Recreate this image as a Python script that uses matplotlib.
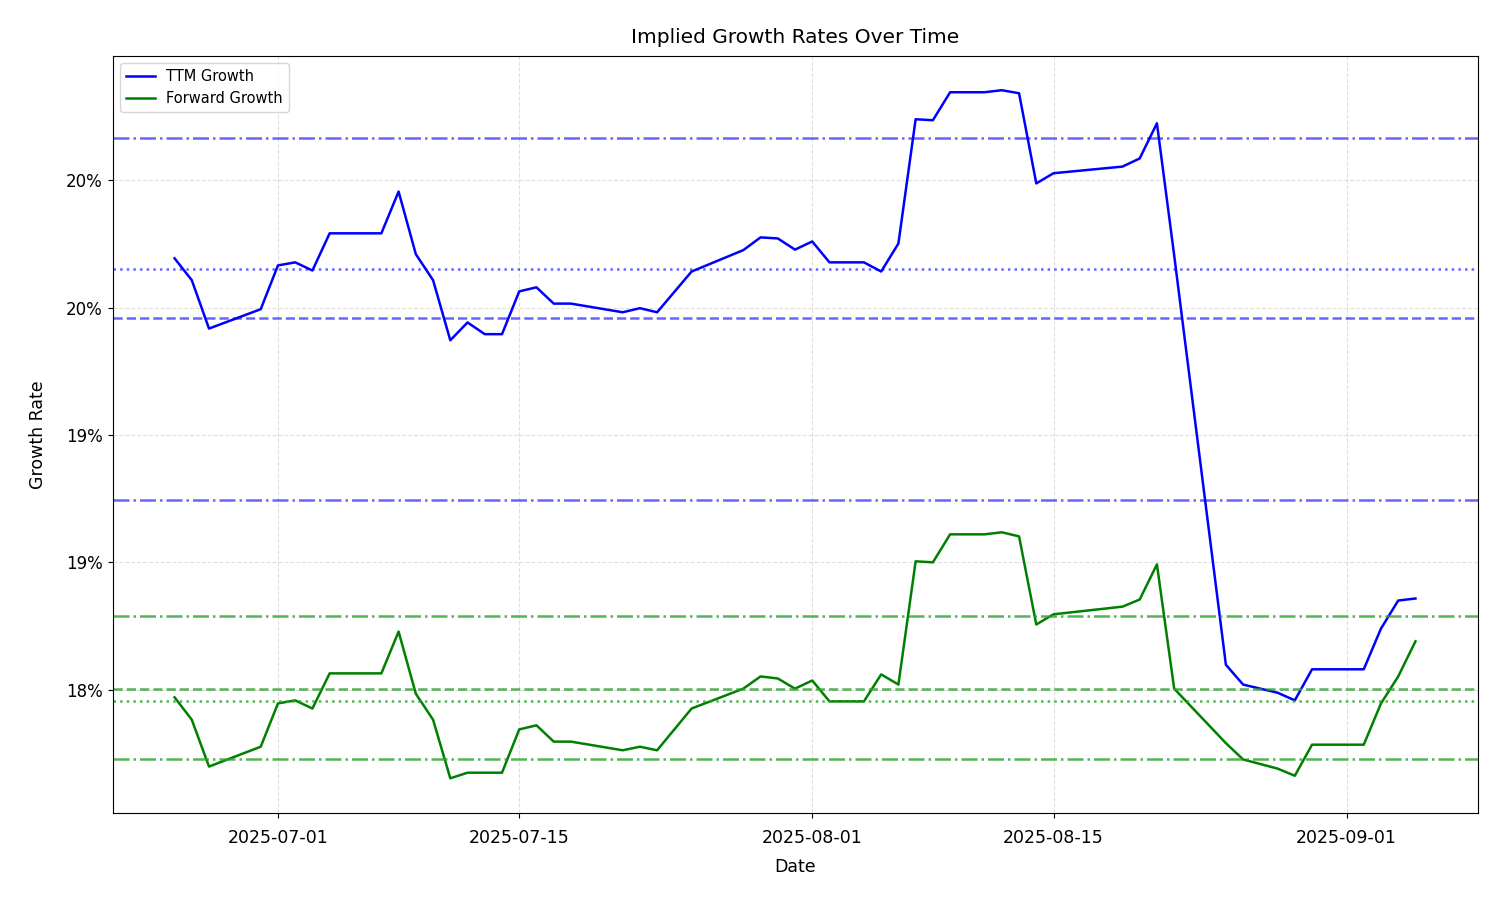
import pandas as pd
import matplotlib
matplotlib.use("Agg")
import matplotlib.pyplot as plt
import matplotlib.dates as mdates

dates = ["2025-06-25", "2025-06-26", "2025-06-27", "2025-06-30", "2025-07-01", "2025-07-02",
         "2025-07-03", "2025-07-04", "2025-07-07", "2025-07-08", "2025-07-09", "2025-07-10",
         "2025-07-11", "2025-07-12", "2025-07-13", "2025-07-14", "2025-07-15", "2025-07-16",
         "2025-07-17", "2025-07-18", "2025-07-21", "2025-07-22", "2025-07-23", "2025-07-25",
         "2025-07-28", "2025-07-29", "2025-07-30", "2025-07-31", "2025-08-01", "2025-08-02",
         "2025-08-04", "2025-08-05", "2025-08-06", "2025-08-07", "2025-08-08", "2025-08-09",
         "2025-08-11", "2025-08-12", "2025-08-13", "2025-08-14", "2025-08-15", "2025-08-19",
         "2025-08-20", "2025-08-21", "2025-08-22", "2025-08-25", "2025-08-26", "2025-08-28",
         "2025-08-29", "2025-08-30", "2025-09-02", "2025-09-03", "2025-09-04", "2025-09-05"]

# growth rates in percent
ttm = [19.847, 19.804, 19.709, 19.747, 19.833, 19.839, 19.823, 19.896, 19.896, 19.978,
       19.855, 19.804, 19.686, 19.721, 19.698, 19.698, 19.782, 19.790, 19.758, 19.758,
       19.741, 19.749, 19.741, 19.821, 19.863, 19.888, 19.886, 19.864, 19.880, 19.839,
       19.839, 19.821, 19.876, 20.120, 20.118, 20.173, 20.173, 20.177, 20.171, 19.994,
       20.014, 20.027, 20.043, 20.112, 19.853, 19.049, 19.010, 18.994, 18.979, 19.040,
       19.040, 19.120, 19.175, 19.179]
fwd = [18.985, 18.941, 18.849, 18.888, 18.973, 18.979, 18.963, 19.032, 19.032, 19.114,
       18.992, 18.941, 18.826, 18.837, 18.837, 18.837, 18.922, 18.930, 18.898, 18.898,
       18.881, 18.888, 18.881, 18.963, 19.002, 19.026, 19.022, 19.002, 19.018, 18.977,
       18.977, 19.030, 19.010, 19.252, 19.250, 19.305, 19.305, 19.309, 19.301, 19.128,
       19.148, 19.163, 19.177, 19.246, 19.002, 18.895, 18.863, 18.845, 18.831, 18.892,
       18.892, 18.973, 19.026, 19.095]

# reference lines (percent): value, style
ttm_lines = [(20.084, "-."), (19.825, ":"), (19.729, "--"), (19.373, "-.")]
fwd_lines = [(19.144, "-."), (19.002, "--"), (18.977, ":"), (18.863, "-.")]

yticks = [20.00, 19.75, 19.50, 19.25, 19.00]
ytick_labels = ["20%", "20%", "19%", "19%", "18%"]

x = pd.to_datetime(dates)
fig, ax = plt.subplots(figsize=(15, 9), dpi=100)
ax.plot(x, [v / 100 for v in ttm], color="blue", lw=1.8, label="TTM Growth")
ax.plot(x, [v / 100 for v in fwd], color="green", lw=1.8, label="Forward Growth")
for v, ls in ttm_lines:
    ax.axhline(v / 100, color="blue", ls=ls, lw=1.8, alpha=0.6)
for v, ls in fwd_lines:
    ax.axhline(v / 100, color="#2ca02c", ls=ls, lw=1.8, alpha=0.8)

ax.set_yticks([t / 100 for t in yticks])
ax.set_yticklabels(ytick_labels, fontsize=12)
ax.xaxis.set_major_locator(mdates.DayLocator(bymonthday=[1, 15]))
ax.xaxis.set_major_formatter(mdates.DateFormatter("%Y-%m-%d"))
ax.tick_params(axis="x", labelsize=12.5, pad=8)
ax.grid(True, ls="--", alpha=0.4)
ax.set_title("Implied Growth Rates Over Time", fontsize=14.5, pad=9)
ax.set_xlabel("Date", fontsize=12.5, labelpad=8)
ax.set_ylabel("Growth Rate", fontsize=12.5, labelpad=14)
ax.legend(loc="upper left", fontsize=10.5)
plt.subplots_adjust(left=0.075, right=0.985, top=0.938, bottom=0.097)
plt.savefig("out.png")
